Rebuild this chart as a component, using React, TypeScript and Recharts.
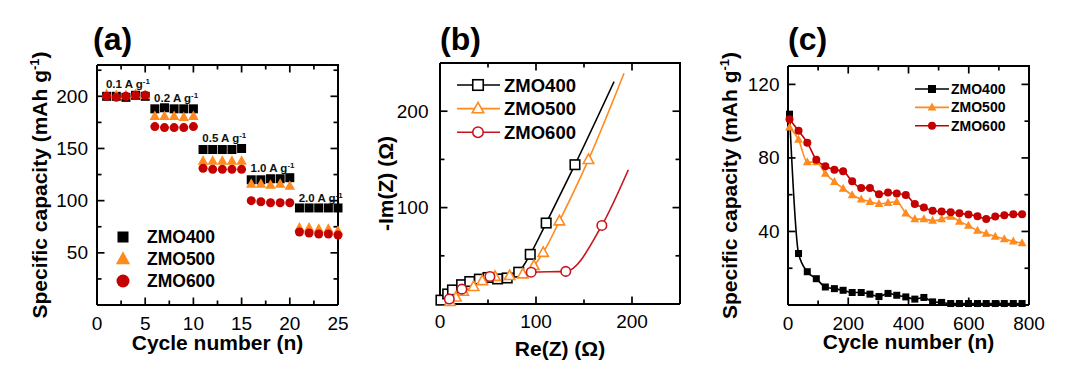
import React from 'react';
import { ComposedChart, Scatter, Line, XAxis, YAxis, Legend, ReferenceDot } from 'recharts';

const FONT = '"Liberation Sans", Arial, Helvetica, sans-serif';
const INK = '#000000';
const ORANGE = '#FF8A1E';
const RED = '#C40000';

// (a) rate capability, 5 cycles per current density
const rateCycles = [1, 2, 3, 4, 5, 6, 7, 8, 9, 10, 11, 12, 13, 14, 15, 16, 17, 18, 19, 20, 21, 22, 23, 24, 25];
const rateZMO400 = [200, 200, 199, 201, 200, 188, 189, 188, 188, 188, 149, 149, 149, 149, 150, 120, 120, 121, 121, 122, 93, 93, 93, 93, 93];
const rateZMO500 = [202, 201, 201, 202, 201, 181, 181, 181, 180, 181, 138, 138, 138, 138, 138, 116, 116, 115, 116, 114, 74, 74, 73, 73, 71];
const rateZMO600 = [200, 199, 200, 201, 201, 171, 170, 170, 170, 171, 131, 130, 130, 130, 130, 100, 99, 98, 98, 98, 70, 69, 68, 68, 67];
const rateSteps = ['0.1', '0.2', '0.5', '1.0', '2.0'];

// (b) Nyquist plots
const reZMO400 = [1, 8, 13, 22.5, 31, 41, 50, 60, 70, 82, 94, 110.6, 140.6, 181.3];
const imZMO400 = [4, 10.4, 14.6, 20, 23.3, 25.8, 27.5, 26, 27, 33, 51.5, 84, 144.5, 230.6];
const reZMO500 = [6, 10.4, 16.6, 24.2, 35, 44, 57.3, 72.5, 86.3, 97.8, 107.5, 124.4, 154.7, 191.7];
const imZMO500 = [0.5, 2.4, 7, 13, 18, 24, 28.5, 29.3, 31, 39.7, 53.3, 86, 149.7, 239.3];
const reZMO600 = [1, 9.7, 22.8, 52, 95, 131, 168.6, 196.2];
const imZMO600 = [0.7, 5.2, 15.4, 28.5, 33, 33.8, 81.5, 139.3];

// (c) long cycling
const longCycles = [5, 35, 64, 94, 124, 154, 183, 213, 243, 272, 302, 332, 361, 391, 421, 451, 480, 510, 540, 569, 599, 629, 658, 688, 718, 748, 777];
const cycZMO400 = [103.8, 28, 18.1, 14.3, 9.8, 8.9, 8, 6.8, 6.8, 5.9, 4.6, 6.3, 5.3, 4.4, 3.2, 4.1, 1.7, 1.4, 0.8, 0.8, 0.8, 0.8, 0.8, 0.8, 0.8, 0.8, 0.8];
const cycZMO500 = [96.6, 90, 77.7, 77.7, 71.5, 67, 63.4, 59.8, 57.5, 56.2, 55, 55.6, 56.2, 49.9, 46.7, 46.7, 45.9, 46.7, 48.1, 45.4, 43.2, 40.5, 38.8, 37.3, 35.9, 34.6, 33.7];
const cycZMO600 = [101.1, 94.8, 88.3, 79, 75.5, 73.6, 72.7, 67.3, 63.7, 63.7, 60.2, 61.2, 60.7, 59.8, 54.9, 53.1, 51.3, 50.8, 50.5, 49.9, 49.2, 48.3, 46.8, 48.1, 48.8, 49.3, 49.3];

// tick values
const aXTicks = [0, 2.5, 5, 7.5, 10, 12.5, 15, 17.5, 20, 22.5, 25];
const aXMajor = [0, 5, 10, 15, 20, 25];
const aYTicks = [25, 50, 75, 100, 125, 150, 175, 200, 225];
const aYMajor = [50, 100, 150, 200];
const bXTicks = [0, 50, 100, 150, 200];
const bXMajor = [0, 100, 200];
const bYTicks = [50, 100, 150, 200];
const bYMajor = [100, 200];
const cXTicks = [0, 100, 200, 300, 400, 500, 600, 700, 800];
const cXMajor = [0, 200, 400, 600, 800];
const cYTicks = [20, 40, 60, 80, 100, 120];
const cYMajor = [40, 80, 120];

const GAP = 10; // label anchor sits this far outside the axis line
const frame = { stroke: INK, strokeWidth: 2 };

const axisBase = {
  type: 'number' as const,
  interval: 0 as const,
  tickSize: 0,
  tickMargin: GAP,
  tickLine: false,
  axisLine: frame,
};

const bottomLabels = (majors: number[], below: number) => (props: any) => {
  const { x, y, payload } = props;
  if (!majors.includes(payload.value)) return <g />;
  return (
    <text x={x} y={Number(y) - GAP + below} textAnchor="middle" fontFamily={FONT} fontSize={19} fill={INK}>
      {payload.value}
    </text>
  );
};

const leftLabels = (majors: number[], gap: number) => (props: any) => {
  const { x, y, payload } = props;
  if (!majors.includes(payload.value)) return <g />;
  return (
    <text x={Number(x) + GAP - gap} y={Number(y) + 6.5} textAnchor="end" fontFamily={FONT} fontSize={19} fill={INK}>
      {payload.value}
    </text>
  );
};

const xTitle = (content: React.ReactNode, below: number) => (props: any) => {
  const vb = props.viewBox;
  return (
    <text x={vb.x + vb.width / 2} y={vb.y + below} textAnchor="middle" fontFamily={FONT} fontWeight="bold" fontSize={21} fill={INK}>
      {content}
    </text>
  );
};

const yTitle = (content: React.ReactNode, offset: number) => (props: any) => {
  const vb = props.viewBox;
  const bx = vb.x + vb.width - offset;
  const cy = vb.y + vb.height / 2;
  return (
    <text transform={`rotate(-90 ${bx} ${cy})`} x={bx} y={cy} textAnchor="middle" fontFamily={FONT} fontWeight="bold" fontSize={21} fill={INK}>
      {content}
    </text>
  );
};

const capacityTitle = (
  <>
    Specific capacity (mAh g<tspan dy={-8} fontSize={13}>-1</tspan><tspan dy={8}>)</tspan>
  </>
);

type Kind = 'square' | 'triangle' | 'circle';
const marker = (kind: Kind, cx: number, cy: number, size: number, color: string, open: boolean, key?: string) => {
  const fill = open ? '#ffffff' : color;
  const sw = open ? 1.6 : 0;
  if (kind === 'square') {
    return <rect key={key} x={cx - size / 2} y={cy - size / 2} width={size} height={size} fill={fill} stroke={color} strokeWidth={sw} />;
  }
  if (kind === 'triangle') {
    const w = size * 1.1;
    const h = size;
    return (
      <polygon key={key} points={`${cx},${cy - h * 0.6} ${cx - w / 2},${cy + h * 0.4} ${cx + w / 2},${cy + h * 0.4}`} fill={fill} stroke={color} strokeWidth={sw} />
    );
  }
  return <circle key={key} cx={cx} cy={cy} r={size / 2} fill={fill} stroke={color} strokeWidth={sw} />;
};

const seriesStyle: { name: string; kind: Kind; color: string }[] = [
  { name: 'ZMO400', kind: 'square', color: INK },
  { name: 'ZMO500', kind: 'triangle', color: ORANGE },
  { name: 'ZMO600', kind: 'circle', color: RED },
];

// closed frame (top + right edges) and inward ticks on all four sides,
// drawn as helper series so they go through the same scales as the data
type Side = 'b' | 't' | 'l' | 'r';
const frameParts = (xTicks: number[], xMajor: number[], yTicks: number[], yMajor: number[], xDom: number[], yDom: number[]) => {
  const pts: { x: number; y: number; side: Side; major: boolean }[] = [];
  xTicks.forEach((v) => {
    pts.push({ x: v, y: yDom[0], side: 'b', major: xMajor.includes(v) });
    pts.push({ x: v, y: yDom[1], side: 't', major: xMajor.includes(v) });
  });
  yTicks.forEach((v) => {
    pts.push({ x: xDom[0], y: v, side: 'l', major: yMajor.includes(v) });
    pts.push({ x: xDom[1], y: v, side: 'r', major: yMajor.includes(v) });
  });
  const corners = [
    { x: xDom[0], y: yDom[1] },
    { x: xDom[1], y: yDom[1] },
    { x: xDom[1], y: yDom[0] },
  ];
  const tickShape = (p: any) => {
    const d = p.payload || {};
    const l = d.major ? 7.5 : 4.5;
    const dx = d.side === 'l' ? l : d.side === 'r' ? -l : 0;
    const dy = d.side === 'b' ? -l : d.side === 't' ? l : 0;
    return <path d={`M${p.cx},${p.cy}l${dx},${dy}`} stroke={INK} strokeWidth={1.7} fill="none" />;
  };
  return [
    <Line key="frame" xAxisId="b" yAxisId="l" data={corners} dataKey="y" type="linear" stroke={INK} strokeWidth={2} dot={false} activeDot={false} isAnimationActive={false} legendType="none" />,
    <Scatter key="ticks" xAxisId="b" yAxisId="l" data={pts} shape={tickShape} isAnimationActive={false} legendType="none" />,
  ];
};

function RatePanel() {
  const sets = [rateZMO400, rateZMO500, rateZMO600].map((vals) => rateCycles.map((c, i) => ({ x: c, y: vals[i] })));
  const sizes = [9, 9.5, 9];
  const steps = rateSteps.map((label, k) => {
    const idx = [0, 1, 2, 3, 4].map((j) => k * 5 + j);
    const x = rateCycles[k * 5 + 2];
    const y = Math.max(...idx.map((i) => Math.max(rateZMO400[i], rateZMO500[i], rateZMO600[i])));
    return { label, x, y };
  });
  return (
    <ComposedChart width={350} height={383} margin={{ top: 65, right: 12, bottom: 0, left: 0 }}>
      <XAxis xAxisId="b" dataKey="x" domain={[0, 25]} ticks={aXTicks} height={78} tick={bottomLabels(aXMajor, 25)} label={{ content: xTitle('Cycle number (n)', 45) }} {...axisBase} />
      <YAxis yAxisId="l" dataKey="y" domain={[0, 230]} ticks={aYTicks} width={97} tick={leftLabels(aYMajor, 9)} label={{ content: yTitle(capacityTitle, 50) }} {...axisBase} />
      {frameParts(aXTicks, aXMajor, aYTicks, aYMajor, [0, 25], [0, 230])}
      {sets.map((data, s) => (
        <Scatter
          key={seriesStyle[s].name}
          name={seriesStyle[s].name}
          xAxisId="b"
          yAxisId="l"
          data={data}
          isAnimationActive={false}
          shape={(p: any) => marker(seriesStyle[s].kind, p.cx, p.cy, sizes[s], seriesStyle[s].color, false)}
        />
      ))}
      {steps.map((st) => (
        <ReferenceDot
          key={st.label}
          xAxisId="b"
          yAxisId="l"
          x={st.x}
          y={st.y}
          r={0}
          shape={(p: any) => (
            <text x={p.cx + 2} y={p.cy - 6} textAnchor="middle" fontFamily={FONT} fontWeight="bold" fontSize={11.5} fill="#111">
              {st.label} A g<tspan dy={-4} fontSize={8}>-1</tspan>
            </text>
          )}
        />
      ))}
      <Legend
        layout="horizontal"
        verticalAlign="middle"
        align="center"
        wrapperStyle={{ left: 110, top: 225, width: 130, height: 70 }}
        content={() => (
          <svg width={130} height={70}>
            {seriesStyle.map((s, i) => (
              <g key={s.name}>
                {marker(s.kind, 13, 12 + i * 22, s.kind === 'square' ? 11 : 13, s.color, false)}
                <text x={37} y={18 + i * 22} fontFamily={FONT} fontWeight="bold" fontSize={17.5} fill={INK}>{s.name}</text>
              </g>
            ))}
          </svg>
        )}
      />
    </ComposedChart>
  );
}

function NyquistPanel() {
  const res = [reZMO400, reZMO500, reZMO600];
  const ims = [imZMO400, imZMO500, imZMO600];
  const bare = [[13], [0, 13], [0, 7]];
  const sets = res.map((re, s) => re.map((x, i) => ({ x, y: ims[s][i] })));
  const lineColors = [INK, ORANGE, '#C8141C'];
  return (
    <ComposedChart width={350} height={383} margin={{ top: 63, right: 30, bottom: 0, left: 0 }}>
      <XAxis xAxisId="b" dataKey="x" domain={[0, 250]} ticks={bXTicks} height={79} tick={bottomLabels(bXMajor, 24)} label={{ content: xTitle('Re(Z) (Ω)', 52) }} {...axisBase} />
      <YAxis yAxisId="l" dataKey="y" domain={[0, 250]} ticks={bYTicks} width={80} tick={leftLabels(bYMajor, 11.5)} label={{ content: yTitle('-Im(Z) (Ω)', 47) }} {...axisBase} />
      {frameParts(bXTicks, bXMajor, bYTicks, bYMajor, [0, 250], [0, 250])}
      {sets.map((data, s) => (
        <Line
          key={seriesStyle[s].name}
          name={seriesStyle[s].name}
          xAxisId="b"
          yAxisId="l"
          data={data}
          dataKey="y"
          type="monotone"
          stroke={lineColors[s]}
          strokeWidth={1.6}
          isAnimationActive={false}
          dot={(p: any) =>
            bare[s].includes(p.index) ? <g key={`n${p.index}`} /> : marker(seriesStyle[s].kind, p.cx, p.cy, 9.5, lineColors[s], true, `m${p.index}`)
          }
        />
      ))}
      <Legend
        layout="horizontal"
        verticalAlign="middle"
        align="center"
        wrapperStyle={{ left: 95, top: 70, width: 130, height: 76 }}
        content={() => (
          <svg width={130} height={76}>
            {seriesStyle.map((s, i) => (
              <g key={s.name}>
                <line x1={2} x2={45} y1={15 + i * 23.6} y2={15 + i * 23.6} stroke={lineColors[i]} strokeWidth={1.6} />
                {marker(s.kind, 23, 15 + i * 23.6, 10.5, lineColors[i], true)}
                <text x={49} y={21.5 + i * 23.6} fontFamily={FONT} fontWeight="bold" fontSize={18.5} fill={INK}>{s.name}</text>
              </g>
            ))}
          </svg>
        )}
      />
    </ComposedChart>
  );
}

function CyclingPanel() {
  const sets = [cycZMO400, cycZMO500, cycZMO600].map((vals) => longCycles.map((c, i) => ({ x: c, y: vals[i] })));
  const sizes = [7, 8, 8];
  return (
    <ComposedChart width={362} height={383} margin={{ top: 66, right: 38, bottom: 0, left: 0 }}>
      <XAxis xAxisId="b" dataKey="x" domain={[0, 800]} ticks={cXTicks} height={78} tick={bottomLabels(cXMajor, 25)} label={{ content: xTitle('Cycle number (n)', 44) }} {...axisBase} />
      <YAxis yAxisId="l" dataKey="y" domain={[0, 130]} ticks={cYTicks} width={83} tick={leftLabels(cYMajor, 8.5)} label={{ content: yTitle(capacityTitle, 51.5) }} {...axisBase} />
      {frameParts(cXTicks, cXMajor, cYTicks, cYMajor, [0, 800], [0, 130])}
      {sets.map((data, s) => (
        <Line
          key={seriesStyle[s].name}
          name={seriesStyle[s].name}
          xAxisId="b"
          yAxisId="l"
          data={data}
          dataKey="y"
          type="monotone"
          stroke={seriesStyle[s].color}
          strokeWidth={1.6}
          isAnimationActive={false}
          dot={(p: any) => marker(seriesStyle[s].kind, p.cx, p.cy, sizes[s], seriesStyle[s].color, false, `m${p.index}`)}
        />
      ))}
      <Legend
        layout="horizontal"
        verticalAlign="middle"
        align="center"
        wrapperStyle={{ left: 208, top: 78, width: 130, height: 60 }}
        content={() => (
          <svg width={130} height={60}>
            {seriesStyle.map((s, i) => (
              <g key={s.name}>
                <line x1={2} x2={36} y1={11 + i * 18.4} y2={11 + i * 18.4} stroke={s.color} strokeWidth={1.6} />
                {marker(s.kind, 19, 11 + i * 18.4, 8, s.color, false)}
                <text x={38} y={16 + i * 18.4} fontFamily={FONT} fontWeight="bold" fontSize={14} fill={INK}>{s.name}</text>
              </g>
            ))}
          </svg>
        )}
      />
    </ComposedChart>
  );
}

const letterStyle: React.CSSProperties = {
  position: 'absolute',
  top: 23,
  fontFamily: FONT,
  fontWeight: 'bold',
  fontSize: 32,
  lineHeight: '32px',
  color: INK,
};

export default function App() {
  return (
    <div style={{ position: 'absolute', left: 0, top: 0, width: 1067, height: 383, background: '#ffffff', overflow: 'hidden' }}>
      <div style={{ position: 'absolute', left: 0, top: 0 }}>
        <RatePanel />
      </div>
      <div style={{ position: 'absolute', left: 360, top: 0 }}>
        <NyquistPanel />
      </div>
      <div style={{ position: 'absolute', left: 705, top: 0 }}>
        <CyclingPanel />
      </div>
      <div style={{ ...letterStyle, left: 93 }}>(a)</div>
      <div style={{ ...letterStyle, left: 440 }}>(b)</div>
      <div style={{ ...letterStyle, left: 788 }}>(c)</div>
    </div>
  );
}
